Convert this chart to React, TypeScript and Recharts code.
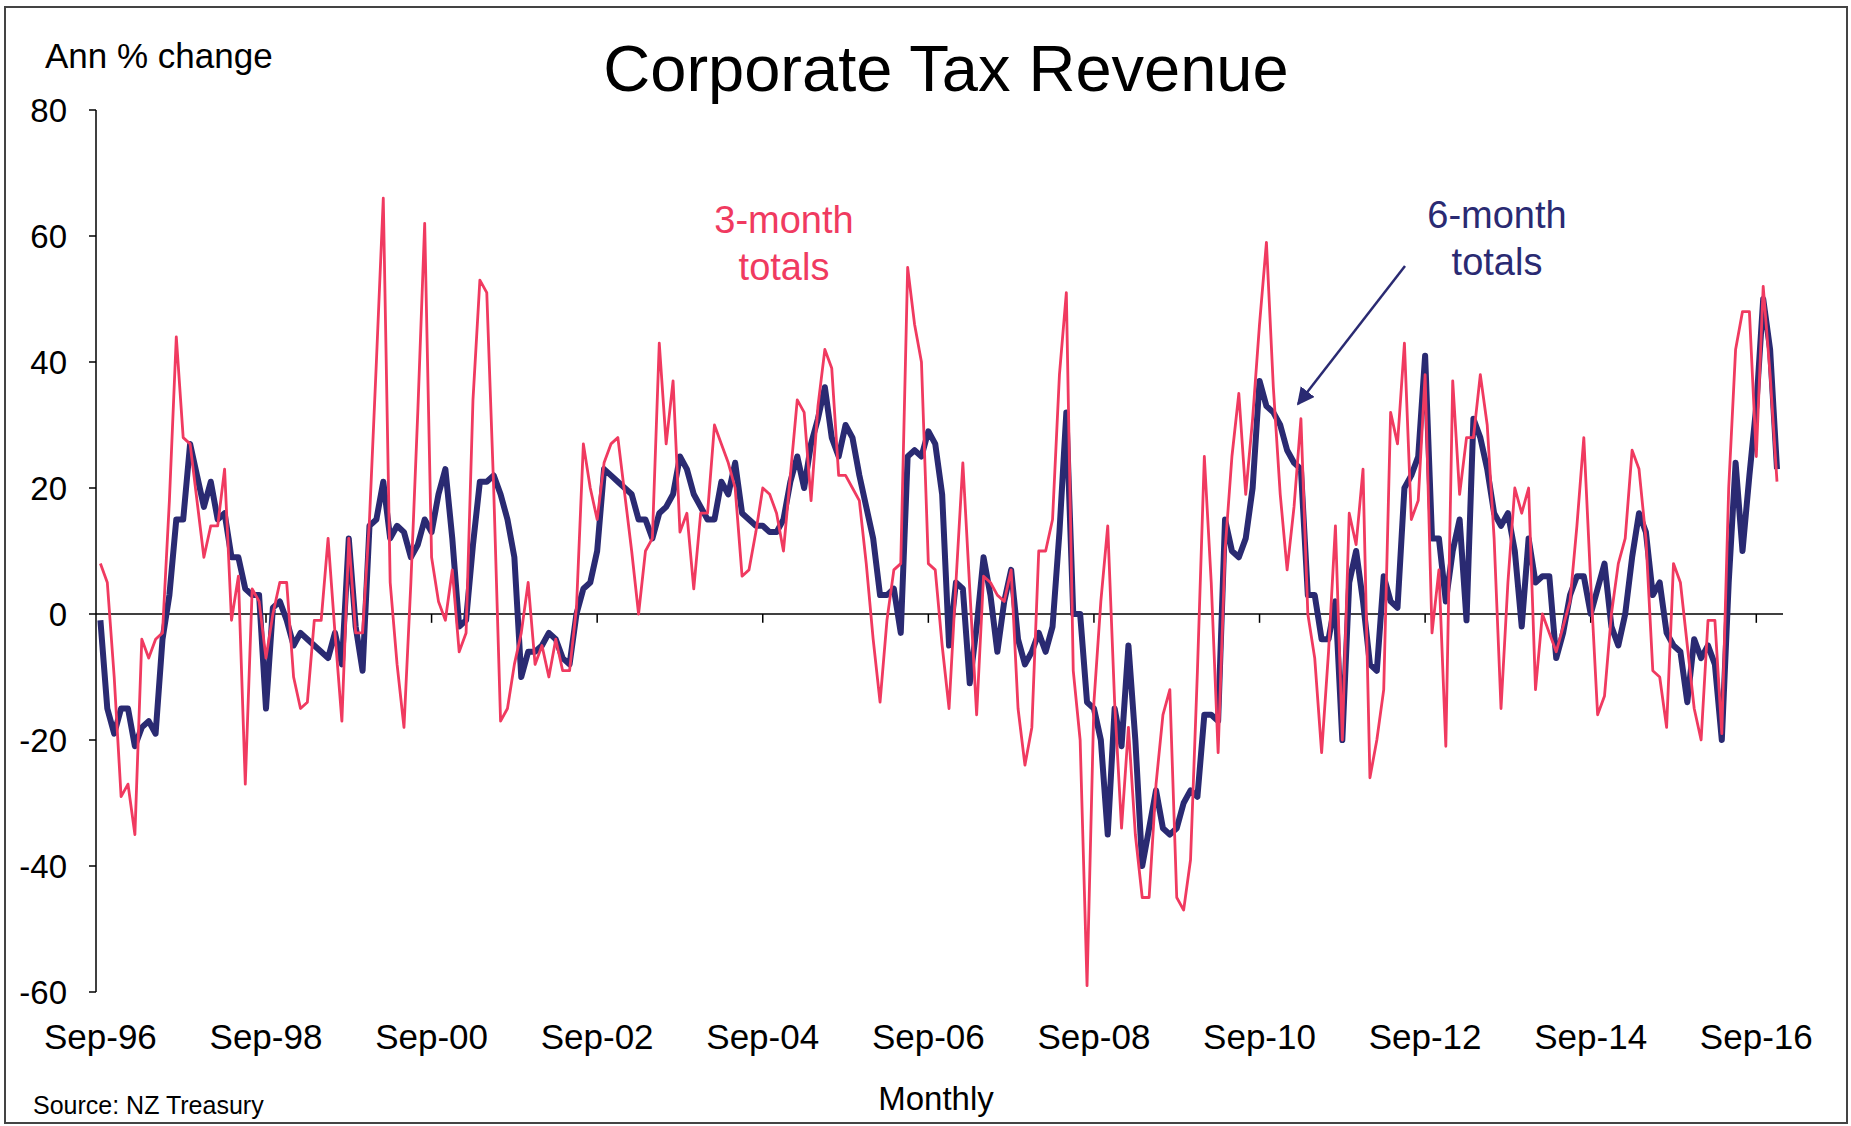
import { LineChart, Line, XAxis, YAxis, ReferenceLine } from 'recharts'

// Monthly series starting Sep-96 (annual % change)
const START_YEAR = 1996
const START_MONTH = 8 // September, 0-based
const MONTH_NAMES = ['Jan', 'Feb', 'Mar', 'Apr', 'May', 'Jun', 'Jul', 'Aug', 'Sep', 'Oct', 'Nov', 'Dec']

const threeMonthTotals = [
  8, 5, -10, -29, -27, -35, -4, -7, -4, -3, 18, 44, 28, 27, 18, 9, 14, 14, 23, -1, 6, -27, 4, 2,
  -7, 0, 5, 5, -10, -15, -14, -1, -1, 12, -3, -17, 12, -3, -3, 15, 40, 66, 5, -8, -18, 5, 32, 62,
  9, 2, -1, 7, -6, -3, 34, 53, 51, 20, -17, -15, -8, -3, 5, -8, -5, -10, -4, -9, -9, 1, 27, 20,
  15, 24, 27, 28, 19, 10, 0, 10, 12, 43, 27, 37, 13, 16, 4, 16, 16, 30, 27, 24, 20, 6, 7, 13,
  20, 19, 16, 10, 22, 34, 32, 18, 33, 42, 39, 22, 22, 20, 18, 8, -4, -14, -1, 7, 8, 55, 46, 40,
  8, 7, -5, -15, 5, 24, 4, -16, 6, 5, 3, 2, 7, -15, -24, -18, 10, 10, 15, 38, 51, -9, -20, -59,
  -14, 2, 14, -14, -34, -18, -35, -45, -45, -27, -16, -12, -45, -47, -39, -9, 25, 5, -22, 10, 25, 35, 19, 31,
  46, 59, 36, 19, 7, 17, 31, 0, -7, -22, -6, 14, -20, 16, 11, 23, -26, -20, -12, 32, 27, 43, 15, 18,
  38, -3, 7, -21, 37, 19, 28, 28, 38, 30, 12, -15, 5, 20, 16, 20, -12, 0, -3, -6, -2, 2, 14, 28,
  5, -16, -13, 0, 8, 12, 26, 23, 12, -9, -10, -18, 8, 5, -5, -15, -20, -1, -1, -19, 20, 42, 48, 48,
  25, 52, 38, 21,
]

const sixMonthTotals = [
  -1, -15, -19, -15, -15, -21, -18, -17, -19, -4, 3, 15, 15, 27, 22, 17, 21, 15, 16, 9, 9, 4, 3, 3,
  -15, 1, 2, -1, -5, -3, -4, -5, -6, -7, -3, -8, 12, -2, -9, 14, 15, 21, 12, 14, 13, 9, 11, 15,
  13, 19, 23, 12, -2, -1, 11, 21, 21, 22, 19, 15, 9, -10, -6, -6, -5, -3, -4, -7, -8, 0, 4, 5,
  10, 23, 22, 21, 20, 19, 15, 15, 12, 16, 17, 19, 25, 23, 19, 17, 15, 15, 21, 19, 24, 16, 15, 14,
  14, 13, 13, 15, 21, 25, 20, 27, 31, 36, 28, 25, 30, 28, 22, 17, 12, 3, 3, 4, -3, 25, 26, 25,
  29, 27, 19, -5, 5, 4, -11, -2, 9, 3, -6, 2, 7, -4, -8, -6, -3, -6, -2, 13, 32, 0, 0, -14,
  -15, -20, -35, -15, -21, -5, -20, -40, -34, -28, -34, -35, -34, -30, -28, -29, -16, -16, -17, 15, 10, 9, 12, 20,
  37, 33, 32, 30, 26, 24, 23, 3, 3, -4, -4, 2, -20, 5, 10, 2, -8, -9, 6, 2, 1, 20, 22, 25,
  41, 12, 12, 2, 10, 15, -1, 31, 28, 23, 16, 14, 16, 10, -2, 12, 5, 6, 6, -7, -3, 3, 6, 6,
  0, 4, 8, -2, -5, 0, 9, 16, 13, 3, 5, -3, -5, -6, -14, -4, -7, -5, -8, -20, 5, 24, 10, 22,
  33, 50, 42, 23,
]

const xTickLabels = ['Sep-96', 'Sep-98', 'Sep-00', 'Sep-02', 'Sep-04', 'Sep-06', 'Sep-08', 'Sep-10', 'Sep-12', 'Sep-14', 'Sep-16']
const yTickValues = [-60, -40, -20, 0, 20, 40, 60, 80]

const RED = '#F03A60'
const NAVY = '#2A2A72'
const FONT = '"Liberation Sans", Arial, Helvetica, sans-serif'

function monthLabel(i: number) {
  const m = START_MONTH + i
  const yy = (START_YEAR + Math.floor(m / 12)) % 100
  return `${MONTH_NAMES[m % 12]}-${String(yy).padStart(2, '0')}`
}

const chartData = threeMonthTotals.map((v, i) => ({
  month: monthLabel(i),
  three: v,
  six: sixMonthTotals[i],
}))

function XTick({ x, y, payload }: { x: number; y: number; payload: { value: string } }) {
  return (
    <text x={x} y={y + 57} textAnchor="middle" fontSize={35} fill="#000" fontFamily={FONT}>
      {payload.value}
    </text>
  )
}

export default function App() {
  return (
    <div
      style={{
        position: 'absolute',
        left: 0,
        top: 0,
        width: 1851,
        height: 1126,
        background: '#fff',
        fontFamily: FONT,
      }}
    >
      <LineChart
        width={1851}
        height={1126}
        data={chartData}
        margin={{ top: 110, right: 68, bottom: 74, left: 0 }}
      >
        <XAxis
          dataKey="month"
          ticks={xTickLabels}
          interval={0}
          padding={{ left: 4.4, right: 6 }}
          axisLine={false}
          tickLine={false}
          tickSize={0}
          tickMargin={0}
          height={60}
          tick={XTick}
        />
        <YAxis
          domain={[-60, 80]}
          ticks={yTickValues}
          interval={0}
          width={96}
          axisLine={{ stroke: '#000', strokeWidth: 1.5 }}
          tickLine={{ stroke: '#000', strokeWidth: 1.5 }}
          tickSize={7}
          tickMargin={22}
          tick={{ fontSize: 33, fill: '#000', fontFamily: FONT }}
        />
        <ReferenceLine y={0} stroke="#000" strokeWidth={1.5} />
        {xTickLabels.slice(1).map((t) => (
          <ReferenceLine
            key={t}
            segment={[{ x: t, y: 0 }, { x: t, y: -1.4 }]}
            stroke="#000"
            strokeWidth={1.5}
          />
        ))}
        <Line
          type="linear"
          dataKey="six"
          stroke={NAVY}
          strokeWidth={6}
          strokeLinejoin="round"
          dot={false}
          activeDot={false}
          isAnimationActive={false}
        />
        <Line
          type="linear"
          dataKey="three"
          stroke={RED}
          strokeWidth={2.8}
          strokeLinejoin="round"
          dot={false}
          activeDot={false}
          isAnimationActive={false}
        />
      </LineChart>

      {/* titles, annotations and frame */}
      <svg
        width={1851}
        height={1126}
        style={{ position: 'absolute', left: 0, top: 0, pointerEvents: 'none' }}
        fontFamily={FONT}
      >
        <defs>
          <marker id="arrowHead" viewBox="0 0 10 10" refX="9" refY="5" markerWidth="7" markerHeight="7" orient="auto">
            <path d="M0,0 L10,5 L0,10 z" fill={NAVY} />
          </marker>
        </defs>
        <rect x={5} y={7} width={1842} height={1116} fill="none" stroke="#444" strokeWidth={2} />
        <text x={45} y={68} fontSize={35} fill="#000">Ann % change</text>
        <text x={946} y={91} fontSize={65} fill="#000" textAnchor="middle">Corporate Tax Revenue</text>
        <text x={784} y={233} fontSize={38} fill={RED} textAnchor="middle">3-month</text>
        <text x={784} y={280} fontSize={38} fill={RED} textAnchor="middle">totals</text>
        <text x={1497} y={228} fontSize={38} fill={NAVY} textAnchor="middle">6-month</text>
        <text x={1497} y={275} fontSize={38} fill={NAVY} textAnchor="middle">totals</text>
        <line x1={1405} y1={266} x2={1298} y2={404} stroke={NAVY} strokeWidth={2.5} markerEnd="url(#arrowHead)" />
        <text x={936} y={1110} fontSize={33} fill="#000" textAnchor="middle">Monthly</text>
        <text x={33} y={1114} fontSize={25} fill="#000">Source: NZ Treasury</text>
      </svg>
    </div>
  )
}
